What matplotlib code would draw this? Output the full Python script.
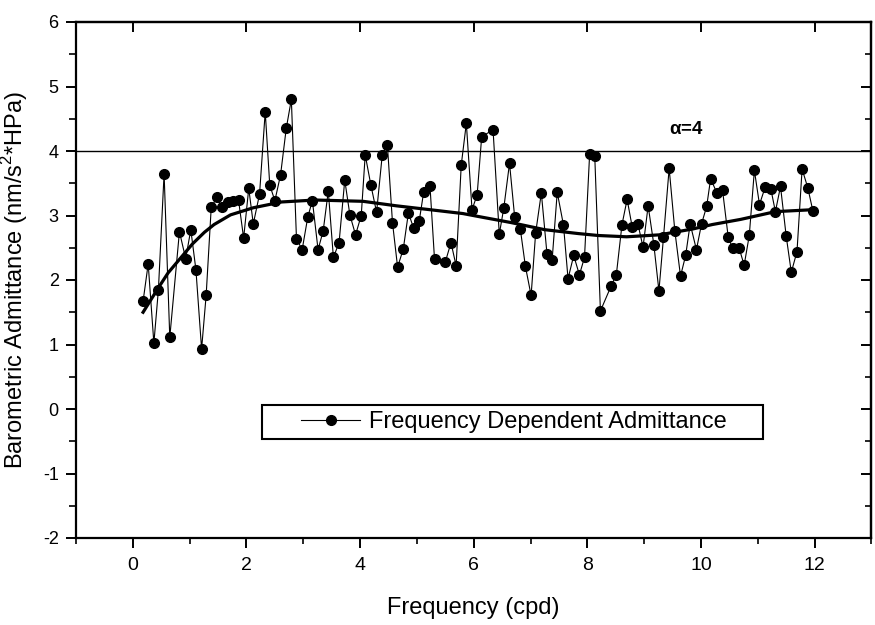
import matplotlib
matplotlib.use("Agg")
import matplotlib.pyplot as plt
from matplotlib.patches import Rectangle
from matplotlib.ticker import MultipleLocator

plt.rcParams['font.family'] = ['Liberation Sans', 'DejaVu Sans']
plt.rcParams['axes.unicode_minus'] = False
plt.rcParams['mathtext.fontset'] = 'custom'
plt.rcParams['mathtext.rm'] = 'Liberation Sans'
plt.rcParams['mathtext.bf'] = 'Liberation Sans:bold'

# ---- data ----
freq = [0.18, 0.27, 0.37, 0.45, 0.55, 0.65, 0.82, 0.93, 1.02, 1.11,
        1.21, 1.29, 1.38, 1.48, 1.57, 1.67, 1.76, 1.86, 1.95, 2.04,
        2.12, 2.23, 2.33, 2.41, 2.50, 2.60, 2.70, 2.79, 2.88, 2.98,
        3.08, 3.16, 3.26, 3.35, 3.44, 3.53, 3.63, 3.73, 3.82, 3.92,
        4.02, 4.09, 4.19, 4.29, 4.39, 4.48, 4.57, 4.66, 4.76, 4.85,
        4.94, 5.04, 5.12, 5.23, 5.31, 5.50, 5.60, 5.69, 5.78, 5.87,
        5.97, 6.06, 6.14, 6.34, 6.45, 6.53, 6.63, 6.72, 6.82, 6.91,
        7.01, 7.09, 7.19, 7.29, 7.38, 7.47, 7.58, 7.66, 7.76, 7.86,
        7.95, 8.04, 8.13, 8.23, 8.42, 8.51, 8.61, 8.70, 8.79, 8.89,
        8.98, 9.07, 9.17, 9.26, 9.34, 9.44, 9.54, 9.64, 9.73, 9.81,
        9.92, 10.01, 10.10, 10.17, 10.28, 10.38, 10.48, 10.56, 10.67, 10.76,
        10.85, 10.94, 11.03, 11.13, 11.23, 11.31, 11.40, 11.50, 11.59, 11.69,
        11.78, 11.88, 11.97]

admittance = [1.67, 2.25, 1.02, 1.85, 3.65, 1.11, 2.75, 2.33, 2.78, 2.16,
              0.93, 1.76, 3.13, 3.28, 3.13, 3.21, 3.23, 3.24, 2.65, 3.42,
              2.87, 3.33, 4.61, 3.47, 3.23, 3.63, 4.35, 4.80, 2.64, 2.47,
              2.98, 3.23, 2.47, 2.76, 3.38, 2.35, 2.58, 3.55, 3.01, 2.70,
              3.00, 3.94, 3.47, 3.05, 3.94, 4.10, 2.89, 2.20, 2.48, 3.04,
              2.81, 2.91, 3.37, 3.46, 2.32, 2.28, 2.58, 2.22, 3.78, 4.43,
              3.09, 3.32, 4.22, 4.33, 2.71, 3.12, 3.81, 2.98, 2.79, 2.21,
              1.76, 2.73, 3.35, 2.40, 2.31, 3.36, 2.85, 2.02, 2.38, 2.08,
              2.35, 3.95, 3.93, 1.52, 1.91, 2.08, 2.86, 3.25, 2.82, 2.87,
              2.51, 3.15, 2.55, 1.83, 2.66, 3.73, 2.76, 2.06, 2.38, 2.87,
              2.47, 2.87, 3.14, 3.57, 3.35, 3.39, 2.66, 2.49, 2.50, 2.23,
              2.69, 3.70, 3.17, 3.44, 3.41, 3.06, 3.45, 2.68, 2.12, 2.44,
              3.72, 3.43, 3.07]

fit_freq = [0.18, 0.45, 0.62, 0.83, 1.05, 1.26, 1.43, 1.72, 2.12, 2.62,
            3.21, 4.05, 4.64, 5.23, 5.81, 6.17, 6.66, 7.25, 7.84, 8.19,
            8.69, 9.27, 9.85, 10.20, 10.70, 11.31, 11.97]
fit_adm = [1.50, 1.88, 2.11, 2.33, 2.56, 2.74, 2.86, 3.01, 3.12, 3.21,
           3.24, 3.22, 3.15, 3.09, 3.03, 2.97, 2.89, 2.78, 2.72, 2.69,
           2.67, 2.70, 2.79, 2.86, 2.94, 3.06, 3.09]

alpha_level = 4
series_label = "Frequency Dependent Admittance"
x_label = "Frequency (cpd)"
y_label = "Barometric Admittance (nm/s$^{2}$*HPa)"

# ---- figure ----
fig = plt.figure(figsize=(8.75, 6.25), dpi=100)
ax = fig.add_axes([0.0869, 0.1392, 0.909, 0.8256])

ax.axhline(alpha_level, color='black', lw=1.0, zorder=1)
ax.plot(fit_freq, fit_adm, color='black', lw=2.3, zorder=2)
line, = ax.plot(freq, admittance, color='black', lw=0.8, marker='o',
                markersize=7, markerfacecolor='black', markeredgecolor='black',
                zorder=3, label=series_label)

ax.text(9.75, 4.33, r"$\mathbf{\alpha}$=4", fontsize=13.5, fontweight='bold',
        ha='center', va='center')

ax.set_xlim(-1, 13)
ax.set_ylim(-2, 6)
ax.xaxis.set_major_locator(MultipleLocator(2))
ax.xaxis.set_minor_locator(MultipleLocator(1))
ax.yaxis.set_major_locator(MultipleLocator(1))
ax.yaxis.set_minor_locator(MultipleLocator(0.5))

for s in ax.spines.values():
    s.set_linewidth(1.6)

ax.tick_params(axis='x', which='major', direction='out', length=7.5, width=1.4,
               labelsize=14, pad=6)
ax.tick_params(axis='x', which='minor', direction='out', length=4, width=1.2)
ax.tick_params(axis='y', which='major', direction='out', length=7.5, width=1.4,
               labelsize=13, pad=5)
ax.tick_params(axis='y', which='minor', direction='out', length=5, width=1.2)

# inward ticks on top and right
top = ax.secondary_xaxis('top')
top.xaxis.set_major_locator(MultipleLocator(2))
top.tick_params(direction='in', length=7, width=1.4, labeltop=False)
top.spines['top'].set_linewidth(1.6)
right = ax.secondary_yaxis('right')
right.yaxis.set_major_locator(MultipleLocator(1))
right.yaxis.set_minor_locator(MultipleLocator(0.5))
right.tick_params(which='major', direction='in', length=7, width=1.4, labelright=False)
right.tick_params(which='minor', direction='in', length=4, width=1.2)
right.spines['right'].set_linewidth(1.6)

ax.set_xlabel(x_label, fontsize=17)
ax.xaxis.set_label_coords(0.5, -0.114)
ax.set_ylabel(y_label, fontsize=17)
ax.yaxis.set_label_coords(-0.058, 0.5)

# legend with a manual frame
leg = ax.legend(handles=[line], loc='center left',
                bbox_to_anchor=((2.96 + 1) / 14, (-0.2 + 2) / 8),
                frameon=False, fontsize=17, handlelength=2.5,
                handletextpad=0.4, borderpad=0, borderaxespad=0)
ax.add_patch(Rectangle((2.28, -0.47), 8.82, 0.53, fill=False, lw=1.5,
                       edgecolor='black', zorder=4))

fig.savefig("out.png", dpi=100)
